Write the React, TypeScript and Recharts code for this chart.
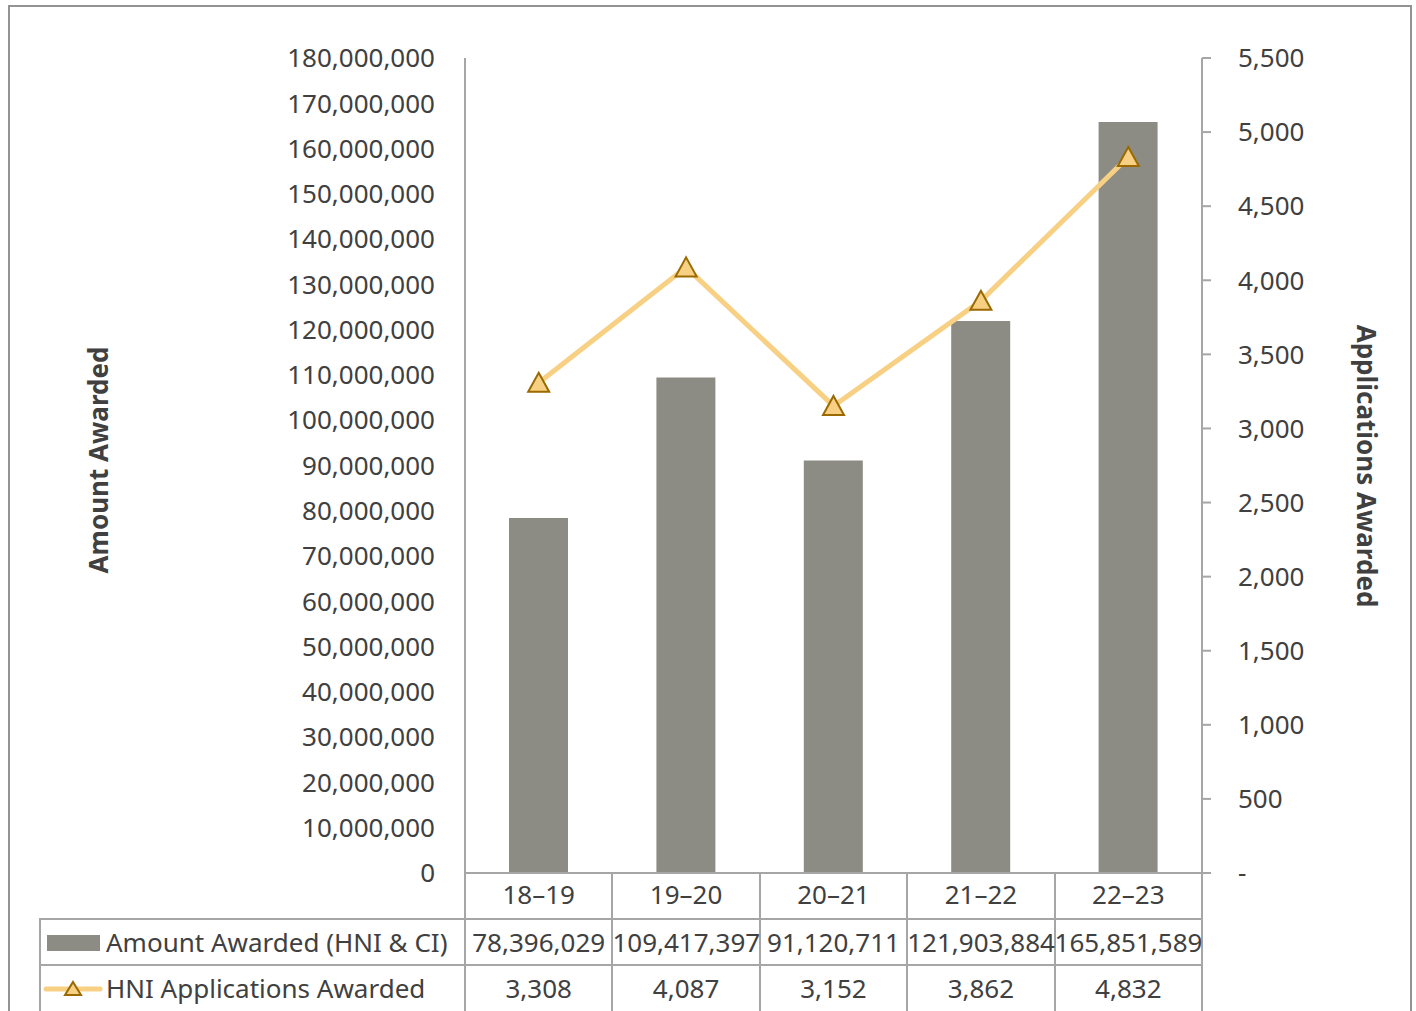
import React from "react"
import {
  ComposedChart,
  Bar,
  Line,
  XAxis,
  YAxis,
} from "recharts"

const categories = ["18–19", "19–20", "20–21", "21–22", "22–23"]
const amountAwarded = [78396029, 109417397, 91120711, 121903884, 165851589]
const applicationsAwarded = [3308, 4087, 3152, 3862, 4832]
const amountTicks = [
  0, 10000000, 20000000, 30000000, 40000000, 50000000, 60000000, 70000000,
  80000000, 90000000, 100000000, 110000000, 120000000, 130000000, 140000000,
  150000000, 160000000, 170000000, 180000000,
]
const appTicks = [0, 500, 1000, 1500, 2000, 2500, 3000, 3500, 4000, 4500, 5000, 5500]

const data = categories.map((cat, i) => ({
  cat,
  amount: amountAwarded[i],
  apps: applicationsAwarded[i],
}))

const FONT = "'Noto Sans', 'Open Sans', sans-serif"
const TEXT = "#404040"
const GRID = "#a6a6a6"
const BAR = "#8c8c85"
const LINE = "#f8d084"
const MARKER_STROKE = "#9a6a00"

// plot box inside the 1416 x 1011 canvas
const W = 1416
const H = 1011
const plotLeft = 465
const plotRight = 1202
const plotTop = 58
const plotBottom = 873
const leftAxisW = 200
const rightAxisW = 120
const xAxisH = 46
const rowH = 46
const colW = (plotRight - plotLeft) / categories.length

const fmt = (v: number) => v.toLocaleString("en-US")

const Triangle = (props: any) => {
  const { cx, cy } = props
  if (cx == null || cy == null) return null
  return (
    <polygon
      points={`${cx},${cy - 10} ${cx + 10.5},${cy + 9} ${cx - 10.5},${cy + 9}`}
      fill={LINE}
      stroke={MARKER_STROKE}
      strokeWidth={2}
      strokeLinejoin="miter"
    />
  )
}

export default function App() {
  const tableTop = plotBottom + xAxisH
  return (
    <div
      style={{
        position: "absolute",
        left: 0,
        top: 0,
        width: W,
        height: H,
        overflow: "hidden",
        background: "#fff",
        fontFamily: FONT,
        color: TEXT,
      }}
    >
      {/* outer frame */}
      <div
        style={{
          position: "absolute",
          left: 8,
          top: 5,
          width: 1400,
          height: 1100,
          border: "2px solid #939393",
        }}
      />

      <div style={{ position: "absolute", left: 0, top: 0 }}>
        <ComposedChart
          width={W}
          height={H}
          data={data}
          margin={{
            top: plotTop,
            left: plotLeft - leftAxisW,
            right: W - plotRight - rightAxisW,
            bottom: H - plotBottom - xAxisH,
          }}
          barCategoryGap="30%"
        >
          <XAxis
            dataKey="cat"
            height={xAxisH}
            axisLine={{ stroke: GRID, strokeWidth: 2 }}
            tickLine={false}
            tickSize={0}
            tickMargin={13}
            tick={{ fontSize: 26, fill: TEXT, fontFamily: FONT }}
            interval={0}
          />
          <YAxis
            yAxisId="left"
            width={leftAxisW}
            domain={[0, 180000000]}
            ticks={amountTicks}
            interval={0}
            tickFormatter={fmt}
            axisLine={{ stroke: GRID, strokeWidth: 2 }}
            tickLine={false}
            tickSize={0}
            tickMargin={30}
            tick={{ fontSize: 26, fill: TEXT, fontFamily: FONT }}
          />
          <YAxis
            yAxisId="right"
            orientation="right"
            width={rightAxisW}
            domain={[0, 5500]}
            ticks={appTicks}
            interval={0}
            tickFormatter={(v: number) => (v === 0 ? "-" : fmt(v))}
            axisLine={{ stroke: GRID, strokeWidth: 2 }}
            tickLine={{ stroke: GRID, strokeWidth: 2 }}
            tickSize={9}
            tickMargin={27}
            tick={{ fontSize: 26, fill: TEXT, fontFamily: FONT }}
          />
          <Bar
            yAxisId="left"
            dataKey="amount"
            fill={BAR}
            barSize={59}
            isAnimationActive={false}
          />
          <Line
            yAxisId="right"
            dataKey="apps"
            type="linear"
            stroke={LINE}
            strokeWidth={5}
            dot={<Triangle />}
            activeDot={false}
            isAnimationActive={false}
          />
        </ComposedChart>
      </div>

      {/* axis titles */}
      <div
        style={{
          position: "absolute",
          left: 98,
          top: 460,
          transform: "translate(-50%, -50%) rotate(-90deg)",
          fontWeight: 700,
          fontSize: 26,
          whiteSpace: "nowrap",
        }}
      >
        Amount Awarded
      </div>
      <div
        style={{
          position: "absolute",
          left: 1367,
          top: 466,
          transform: "translate(-50%, -50%) rotate(90deg)",
          fontWeight: 700,
          fontSize: 26,
          whiteSpace: "nowrap",
        }}
      >
        Applications Awarded
      </div>

      {/* data table lines */}
      {[0, 1, 2, 3, 4, 5].map((i) => (
        <div
          key={"v" + i}
          style={{
            position: "absolute",
            left: plotLeft + i * colW - 1,
            top: plotBottom,
            width: 2,
            height: H - plotBottom,
            background: GRID,
          }}
        />
      ))}
      <div
        style={{
          position: "absolute",
          left: 39,
          top: tableTop,
          width: 2,
          height: H - tableTop,
          background: GRID,
        }}
      />
      {[tableTop, tableTop + rowH].map((y) => (
        <div
          key={"h" + y}
          style={{
            position: "absolute",
            left: 39,
            top: y - 1,
            width: plotRight - 39 + 1,
            height: 2,
            background: GRID,
          }}
        />
      ))}

      {/* legend cells */}
      <div
        style={{
          position: "absolute",
          left: 47,
          top: tableTop + 16,
          width: 53,
          height: 16,
          background: BAR,
        }}
      />
      <div
        style={{
          position: "absolute",
          left: 106,
          top: tableTop,
          height: rowH,
          lineHeight: rowH + "px",
          fontSize: 26,
          whiteSpace: "nowrap",
        }}
      >
        Amount Awarded (HNI &amp; CI)
      </div>
      <svg
        style={{ position: "absolute", left: 40, top: tableTop + rowH }}
        width={66}
        height={rowH}
      >
        <line x1={6} x2={60} y1={24} y2={24} stroke={LINE} strokeWidth={5} strokeLinecap="round" />
        <polygon points="33,17 41,30 25,30" fill={LINE} stroke={MARKER_STROKE} strokeWidth={2} />
      </svg>
      <div
        style={{
          position: "absolute",
          left: 106,
          top: tableTop + rowH,
          height: rowH,
          lineHeight: rowH + "px",
          fontSize: 26,
          whiteSpace: "nowrap",
        }}
      >
        HNI Applications Awarded
      </div>

      {/* data cells */}
      {categories.map((c, i) => (
        <React.Fragment key={c}>
          <div
            style={{
              position: "absolute",
              left: plotLeft + i * colW,
              top: tableTop,
              width: colW,
              height: rowH,
              lineHeight: rowH + "px",
              textAlign: "center",
              fontSize: 26,
              whiteSpace: "nowrap",
            }}
          >
            {fmt(amountAwarded[i])}
          </div>
          <div
            style={{
              position: "absolute",
              left: plotLeft + i * colW,
              top: tableTop + rowH,
              width: colW,
              height: rowH,
              lineHeight: rowH + "px",
              textAlign: "center",
              fontSize: 26,
              whiteSpace: "nowrap",
            }}
          >
            {fmt(applicationsAwarded[i])}
          </div>
        </React.Fragment>
      ))}
    </div>
  )
}
